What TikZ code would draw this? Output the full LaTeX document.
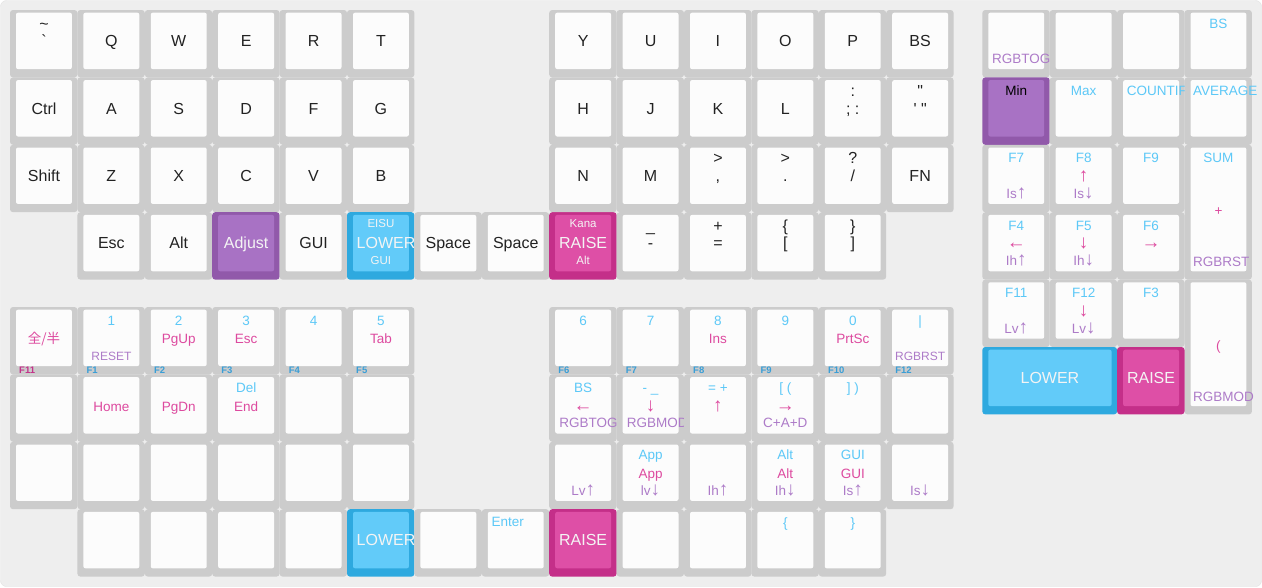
\documentclass[tikz,border=0pt]{standalone}
\usepackage{fontspec}
\setmainfont{Liberation Sans}
\newfontfamily\cjk{Noto Sans CJK JP}

% key colours
\definecolor{panel}{HTML}{EEEEEE}
\definecolor{paneledge}{HTML}{E2E2E2}
\definecolor{plrim}{HTML}{CCCCCC}
\definecolor{pltop}{HTML}{FCFCFC}
\definecolor{lorim}{HTML}{2EA9DF}
\definecolor{lotop}{HTML}{62CBF9}
\definecolor{rarim}{HTML}{C42F89}
\definecolor{ratop}{HTML}{DE4FA6}
\definecolor{adrim}{HTML}{9159AA}
\definecolor{adtop}{HTML}{A872C4}
% legend colours
\definecolor{capblack}{HTML}{222222}
\definecolor{capwhite}{HTML}{F4F4F4}
\definecolor{lgcyan}{HTML}{5CC8F7}
\definecolor{lgpink}{HTML}{DD4A9F}
\definecolor{lgpurple}{HTML}{AD7BC8}
\definecolor{fblue}{HTML}{3A9ED6}
\definecolor{fpink}{HTML}{C3338A}

\tikzset{
  lg/.style={anchor=base, inner sep=0pt},
  mainlg/.style={lg, font=\fontsize{16}{16}\selectfont, text=capblack},
  smalllg/.style={lg, font=\fontsize{11.5}{12}\selectfont, text=capwhite},
  toplg/.style={lg, font=\fontsize{13.5}{14}\selectfont, text=lgcyan},
  midlg/.style={lg, font=\fontsize{13.5}{14}\selectfont, text=lgpink},
  botlg/.style={lg, font=\fontsize{13.5}{14}\selectfont, text=lgpurple},
  tinylg/.style={font=\fontsize{12}{12}\selectfont},
  frontlg/.style={anchor=base west, inner sep=0pt, font=\fontsize{9.5}{10}\bfseries\selectfont, text=fblue},
  flush/.style={anchor=base west},
}

% arrows in legends are drawn larger
\newcommand{\arr}[1]{{\fontsize{19}{19}\selectfont #1}}

% one key: [colour]{col}{row}{width}{height}{legends}
\newcommand{\keycap}[6][pl]{%
  \pgfmathsetmacro\kx{#2*67.4}%
  \pgfmathsetmacro\ky{#3*67.4}%
  \pgfmathsetmacro\kr{(#2+#4)*67.4}%
  \pgfmathsetmacro\kb{(#3+#5)*67.4}%
  \pgfmathsetmacro\cx{(\kx+\kr)/2+0.25}%
  \pgfmathsetmacro\km{(\ky+\kb)/2+3}%
  \fill[#1rim, rounded corners=3] (\kx,\ky) rectangle (\kr,\kb);
  \fill[#1top, rounded corners=2] (\kx+6,\ky+2.7) rectangle (\kr-5.5,\kb-8.3);
  #6}

\begin{document}
\begin{tikzpicture}[x=1pt, y=-1pt]
	\useasboundingbox (0,0) rectangle (1262,587);
	% Panel
	\fill[white] (0,0) rectangle (1262,587);
	\filldraw[fill=panel, draw=paneledge, rounded corners=6] (0.5,0.5) rectangle (1261.5,586.5);
	
	% Base layer
	\begin{scope}[shift={(10,10)}]
		% left half
		\keycap{0}{0}{1}{1}{\node[mainlg] (tld) at (\cx,\ky+19) {\textasciitilde}; \node[mainlg] (grv) at (\cx,\km) {\textasciigrave};}
		\foreach \t [count=\c] in {Q,W,E,R,T} {\keycap{\c}{0}{1}{1}{\node[mainlg] (k\t) at (\cx,\km) {\t};}}
		\keycap{0}{1}{1}{1}{\node[mainlg] (ctrl) at (\cx,\km) {Ctrl};}
		\foreach \t [count=\c] in {A,S,D,F,G} {\keycap{\c}{1}{1}{1}{\node[mainlg] (k\t) at (\cx,\km) {\t};}}
		\keycap{0}{2}{1}{1}{\node[mainlg] (shift) at (\cx,\km) {Shift};}
		\foreach \t [count=\c] in {Z,X,C,V,B} {\keycap{\c}{2}{1}{1}{\node[mainlg] (k\t) at (\cx,\km) {\t};}}
		
		% thumb row
		\keycap{1}{3}{1}{1}{\node[mainlg] (esc) at (\cx,\km) {Esc};}
		\keycap{2}{3}{1}{1}{\node[mainlg] (alt) at (\cx,\km) {Alt};}
		\keycap[ad]{3}{3}{1}{1}{\node[mainlg, text=capwhite] (adjust) at (\cx,\km) {Adjust};}
		\keycap{4}{3}{1}{1}{\node[mainlg] (gui) at (\cx,\km) {GUI};}
		\keycap[lo]{5}{3}{1}{1}{\node[smalllg] (eisu) at (\cx,\ky+15.5) {EISU}; \node[mainlg, flush, text=capwhite] (lower) at (\kx+9.5,\km) {LOWER}; \node[smalllg] (lgui) at (\cx,\ky+52.5) {GUI};}
		\keycap{6}{3}{1}{1}{\node[mainlg] (spl) at (\cx,\km) {Space};}
		\keycap{7}{3}{1}{1}{\node[mainlg] (spr) at (\cx,\km) {Space};}
		\keycap[ra]{8}{3}{1}{1}{\node[smalllg] (kana) at (\cx,\ky+15.5) {Kana}; \node[mainlg, text=capwhite] (raise) at (\cx,\km) {RAISE}; \node[smalllg] (ralt) at (\cx,\ky+52.5) {Alt};}
		\keycap{9}{3}{1}{1}{\node[mainlg] (uscore) at (\cx,\ky+19) {\_}; \node[mainlg] (minus) at (\cx,\km) {-};}
		\keycap{10}{3}{1}{1}{\node[mainlg] (plus) at (\cx,\ky+19) {+}; \node[mainlg] (equal) at (\cx,\km) {=};}
		\keycap{11}{3}{1}{1}{\node[mainlg] (lbrace) at (\cx,\ky+19) {\{}; \node[mainlg] (lbrack) at (\cx,\km) {[};}
		\keycap{12}{3}{1}{1}{\node[mainlg] (rbrace) at (\cx,\ky+19) {\}}; \node[mainlg] (rbrack) at (\cx,\km) {]};}
		
		% right half
		\foreach \t [count=\c from 8] in {Y,U,I,O,P,BS} {\keycap{\c}{0}{1}{1}{\node[mainlg] (k\t) at (\cx,\km) {\t};}}
		\foreach \t [count=\c from 8] in {H,J,K,L} {\keycap{\c}{1}{1}{1}{\node[mainlg] (k\t) at (\cx,\km) {\t};}}
		\keycap{12}{1}{1}{1}{\node[mainlg] (colon) at (\cx,\ky+19) {:}; \node[mainlg] (semi) at (\cx,\km) {; :};}
		\keycap{13}{1}{1}{1}{\node[mainlg] (dquote) at (\cx,\ky+19) {\textquotedbl}; \node[mainlg] (squote) at (\cx,\km) {\textquotesingle{} \textquotedbl};}
		\foreach \t [count=\c from 8] in {N,M} {\keycap{\c}{2}{1}{1}{\node[mainlg] (k\t) at (\cx,\km) {\t};}}
		\keycap{10}{2}{1}{1}{\node[mainlg] (gta) at (\cx,\ky+19) {>}; \node[mainlg] (comma) at (\cx,\km) {,};}
		\keycap{11}{2}{1}{1}{\node[mainlg] (gtb) at (\cx,\ky+19) {>}; \node[mainlg] (period) at (\cx,\km) {.};}
		\keycap{12}{2}{1}{1}{\node[mainlg] (quest) at (\cx,\ky+19) {?}; \node[mainlg] (slash) at (\cx,\km) {/};}
		\keycap{13}{2}{1}{1}{\node[mainlg] (fn) at (\cx,\km) {FN};}
	\end{scope}
	
	% Lower and raise layers
	\begin{scope}[shift={(10,307)}]
		% number row
		\keycap{0}{0}{1}{1}{\node[midlg] (zenhan) at (\cx,\km) {\cjk 全/半}; \node[frontlg, text=fpink] (f11) at (\kx+9,\ky+66) {F11};}
		\keycap{1}{0}{1}{1}{\node[toplg] (n1) at (\cx,\ky+18) {1}; \node[botlg, tinylg] (reset) at (\cx,\kb-14) {RESET}; \node[frontlg] (f1) at (\kx+9,\ky+66) {F1};}
		\keycap{2}{0}{1}{1}{\node[toplg] (n2) at (\cx,\ky+18) {2}; \node[midlg] (pgup) at (\cx,\km) {PgUp}; \node[frontlg] (f2) at (\kx+9,\ky+66) {F2};}
		\keycap{3}{0}{1}{1}{\node[toplg] (n3) at (\cx,\ky+18) {3}; \node[midlg] (resc) at (\cx,\km) {Esc}; \node[frontlg] (f3) at (\kx+9,\ky+66) {F3};}
		\keycap{4}{0}{1}{1}{\node[toplg] (n4) at (\cx,\ky+18) {4}; \node[frontlg] (f4) at (\kx+9,\ky+66) {F4};}
		\keycap{5}{0}{1}{1}{\node[toplg] (n5) at (\cx,\ky+18) {5}; \node[midlg] (tab) at (\cx,\km) {Tab}; \node[frontlg] (f5) at (\kx+9,\ky+66) {F5};}
		\keycap{8}{0}{1}{1}{\node[toplg] (n6) at (\cx,\ky+18) {6}; \node[frontlg] (f6) at (\kx+9,\ky+66) {F6};}
		\keycap{9}{0}{1}{1}{\node[toplg] (n7) at (\cx,\ky+18) {7}; \node[frontlg] (f7) at (\kx+9,\ky+66) {F7};}
		\keycap{10}{0}{1}{1}{\node[toplg] (n8) at (\cx,\ky+18) {8}; \node[midlg] (ins) at (\cx,\km) {Ins}; \node[frontlg] (f8) at (\kx+9,\ky+66) {F8};}
		\keycap{11}{0}{1}{1}{\node[toplg] (n9) at (\cx,\ky+18) {9}; \node[frontlg] (f9) at (\kx+9,\ky+66) {F9};}
		\keycap{12}{0}{1}{1}{\node[toplg] (n0) at (\cx,\ky+18) {0}; \node[midlg] (prtsc) at (\cx,\km) {PrtSc}; \node[frontlg] (f10) at (\kx+9,\ky+66) {F10};}
		\keycap{13}{0}{1}{1}{\node[toplg] (pipe) at (\cx,\ky+18) {|}; \node[botlg, tinylg] (rgbrst) at (\cx,\kb-14) {RGBRST}; \node[frontlg] (f12) at (\kx+9,\ky+66) {F12};}
		
		% home row
		\keycap{0}{1}{1}{1}{}
		\keycap{1}{1}{1}{1}{\node[midlg] (home) at (\cx,\km) {Home};}
		\keycap{2}{1}{1}{1}{\node[midlg] (pgdn) at (\cx,\km) {PgDn};}
		\keycap{3}{1}{1}{1}{\node[toplg] (del) at (\cx,\ky+18) {Del}; \node[midlg] (end) at (\cx,\km) {End};}
		\foreach \c in {4,5} {\keycap{\c}{1}{1}{1}{}}
		\keycap{8}{1}{1}{1}{\node[toplg] (lbs) at (\cx,\ky+18) {BS}; \node[midlg] (left) at (\cx,\km) {\arr{←}}; \node[botlg, flush] (rgbtog) at (\kx+10,\kb-14) {RGBTOG};}
		\keycap{9}{1}{1}{1}{\node[toplg] (dash) at (\cx,\ky+18) {- \_}; \node[midlg] (down) at (\cx,\km) {\arr{↓}}; \node[botlg, flush] (rgbmod) at (\kx+10,\kb-14) {RGBMOD};}
		\keycap{10}{1}{1}{1}{\node[toplg] (eqplus) at (\cx,\ky+18) {= +}; \node[midlg] (up) at (\cx,\km) {\arr{↑}};}
		\keycap{11}{1}{1}{1}{\node[toplg] (lbk) at (\cx,\ky+18) {[ (}; \node[midlg] (right) at (\cx,\km) {\arr{→}}; \node[botlg] (cad) at (\cx,\kb-14) {C+A+D};}
		\keycap{12}{1}{1}{1}{\node[toplg] (rbk) at (\cx,\ky+18) {] )};}
		\keycap{13}{1}{1}{1}{}
		
		% bottom row
		\foreach \c in {0,...,5} {\keycap{\c}{2}{1}{1}{}}
		\keycap{8}{2}{1}{1}{\node[botlg] (lvup) at (\cx,\kb-14) {Lv\arr{↑}};}
		\keycap{9}{2}{1}{1}{\node[toplg] (appa) at (\cx,\ky+18) {App}; \node[midlg] (appb) at (\cx,\km) {App}; \node[botlg] (lvdn) at (\cx,\kb-14) {lv\arr{↓}};}
		\keycap{10}{2}{1}{1}{\node[botlg] (ihup) at (\cx,\kb-14) {Ih\arr{↑}};}
		\keycap{11}{2}{1}{1}{\node[toplg] (alta) at (\cx,\ky+18) {Alt}; \node[midlg] (altb) at (\cx,\km) {Alt}; \node[botlg] (ihdn) at (\cx,\kb-14) {Ih\arr{↓}};}
		\keycap{12}{2}{1}{1}{\node[toplg] (guia) at (\cx,\ky+18) {GUI}; \node[midlg] (guib) at (\cx,\km) {GUI}; \node[botlg] (isup) at (\cx,\kb-14) {Is\arr{↑}};}
		\keycap{13}{2}{1}{1}{\node[botlg] (isdn) at (\cx,\kb-14) {Is\arr{↓}};}
		
		% thumb row
		\foreach \c in {1,...,4} {\keycap{\c}{3}{1}{1}{}}
		\keycap[lo]{5}{3}{1}{1}{\node[mainlg, flush, text=capwhite] (lower2) at (\kx+9.5,\km) {LOWER};}
		\keycap{6}{3}{1}{1}{}
		\keycap{7}{3}{1}{1}{\node[toplg, flush] (enter) at (\kx+9.5,\ky+17) {Enter};}
		\keycap[ra]{8}{3}{1}{1}{\node[mainlg, text=capwhite] (raise2) at (\cx,\km) {RAISE};}
		\foreach \c in {9,10} {\keycap{\c}{3}{1}{1}{}}
		\keycap{11}{3}{1}{1}{\node[toplg] (lcurly) at (\cx,\ky+18) {\{};}
		\keycap{12}{3}{1}{1}{\node[toplg] (rcurly) at (\cx,\ky+18) {\}};}
	\end{scope}
	
	% Pad
	\begin{scope}[shift={(982.3,10)}]
		\keycap{0}{0}{1}{1}{\node[botlg, flush] (ptog) at (\kx+9.5,\kb-14) {RGBTOG};}
		\keycap{1}{0}{1}{1}{}
		\keycap{2}{0}{1}{1}{}
		\keycap{3}{0}{1}{1}{\node[toplg] (pbs) at (\cx,\ky+18) {BS};}
		
		\keycap[ad]{0}{1}{1}{1}{\node[toplg, text=black] (min) at (\cx,\ky+18) {Min};}
		\keycap{1}{1}{1}{1}{\node[toplg] (max) at (\cx,\ky+18) {Max};}
		\keycap{2}{1}{1}{1}{\node[toplg, flush] (countif) at (\kx+9.5,\ky+18) {COUNTIF};}
		\keycap{3}{1}{1}{1}{\node[toplg, flush] (average) at (\kx+8.5,\ky+18) {AVERAGE};}
		
		\keycap{0}{2}{1}{1}{\node[toplg] (pf7) at (\cx,\ky+18) {F7}; \node[botlg] (pisup) at (\cx,\kb-14) {Is\arr{↑}};}
		\keycap{1}{2}{1}{1}{\node[toplg] (pf8) at (\cx,\ky+18) {F8}; \node[midlg] (pup) at (\cx,\km) {\arr{↑}}; \node[botlg] (pisdn) at (\cx,\kb-14) {Is\arr{↓}};}
		\keycap{2}{2}{1}{1}{\node[toplg] (pf9) at (\cx,\ky+18) {F9};}
		\keycap{3}{2}{1}{2}{\node[toplg] (sum) at (\cx,\ky+18) {SUM}; \node[midlg] (pplus) at (\cx,\km) {+}; \node[botlg, flush] (prst) at (\kx+8.5,\kb-13) {RGBRST};}
		
		\keycap{0}{3}{1}{1}{\node[toplg] (pf4) at (\cx,\ky+18) {F4}; \node[midlg] (pleft) at (\cx,\km) {\arr{←}}; \node[botlg] (pihup) at (\cx,\kb-14) {Ih\arr{↑}};}
		\keycap{1}{3}{1}{1}{\node[toplg] (pf5) at (\cx,\ky+18) {F5}; \node[midlg] (pdown) at (\cx,\km) {\arr{↓}}; \node[botlg] (pihdn) at (\cx,\kb-14) {Ih\arr{↓}};}
		\keycap{2}{3}{1}{1}{\node[toplg] (pf6) at (\cx,\ky+18) {F6}; \node[midlg] (pright) at (\cx,\km) {\arr{→}};}
		
		\keycap{0}{4}{1}{1}{\node[toplg] (pf11) at (\cx,\ky+18) {F11}; \node[botlg] (plvup) at (\cx,\kb-14) {Lv\arr{↑}};}
		\keycap{1}{4}{1}{1}{\node[toplg] (pf12) at (\cx,\ky+18) {F12}; \node[midlg] (pdown2) at (\cx,\km) {\arr{↓}}; \node[botlg] (plvdn) at (\cx,\kb-14) {Lv\arr{↓}};}
		\keycap{2}{4}{1}{1}{\node[toplg] (pf3) at (\cx,\ky+18) {F3};}
		\keycap{3}{4}{1}{2}{\node[midlg] (paren) at (\cx,\km) {(}; \node[botlg, flush] (pmod) at (\kx+8.5,\kb-13) {RGBMOD};}
		
		\keycap[lo]{0}{5}{2}{1}{\node[mainlg, text=capwhite] (plower) at (\cx,\km) {LOWER};}
		\keycap[ra]{2}{5}{1}{1}{\node[mainlg, text=capwhite] (praise) at (\cx,\km) {RAISE};}
	\end{scope}
\end{tikzpicture}
\end{document}
